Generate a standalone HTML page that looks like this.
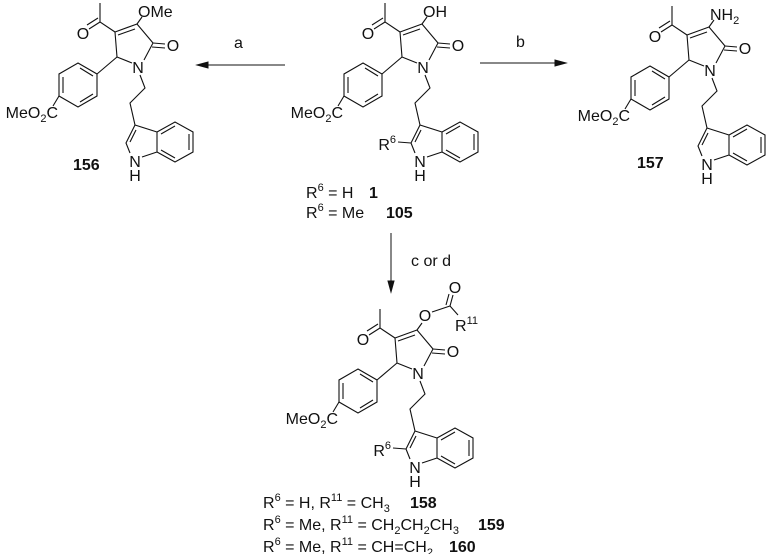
<!DOCTYPE html>
<html><head><meta charset="utf-8"><style>
html,body{margin:0;padding:0;background:#fff;}
svg{display:block;}
text{font-family:"Liberation Sans",sans-serif;font-size:16px;fill:#111;}
.b{font-weight:bold;}
.s{font-size:11px;}
</style></head><body>
<svg width="769" height="554" viewBox="0 0 769 554" xmlns="http://www.w3.org/2000/svg">
<defs>
<g id="core" stroke="#111" stroke-width="1.1" fill="none">
<path d="M385,3 L385,22 L400,32"/>
<path d="M385,22 L374,29 M383,18 L372,25"/>
<path d="M400,32 L422,24 L438,43 L429,60 M417,63 L402,57 L400,32"/>
<path d="M403,35 L420,29"/>
<path d="M438,43 L450,44 M437,47 L450,48"/>
<path d="M402,57 L382,74"/>
<path d="M363,63 L382,74 L382,96 L363,107 L344,96 L344,74 Z"/>
<path d="M365,68 L378,76 M378,94 L365,102 M348,93 L348,77"/>
<path d="M344,96 L338,106"/>
<path d="M425,75 L430,88 L415,103 L420,125"/>
<path d="M420,125 L411,143 L415,153 M427,157 L442,152 L442,132 L420,125"/>
<path d="M421,130 L415,142"/>
<path d="M442,132 L460,122 L478,132 L478,152 L460,162 L442,152"/>
<path d="M446,134 L460,126 M474,134 L474,150 M446,150 L460,158"/>
</g>
</defs>

<use href="#core"/>
<path d="M422,24 L427,17 M398,142 L411,143" stroke="#111" stroke-width="1.1" fill="none"/>
<text x="368" y="39" text-anchor="middle">O</text>
<text x="458" y="51" text-anchor="middle">O</text>
<text x="423" y="73" text-anchor="middle">N</text>
<text x="423" y="17">OH</text>
<text x="343" y="118" text-anchor="end">MeO<tspan class="s" dy="4">2</tspan><tspan dy="-4">C</tspan></text>
<text x="420" y="167" text-anchor="middle">N</text>
<text x="420" y="181" text-anchor="middle">H</text>
<text x="396" y="150" text-anchor="end">R<tspan class="s" dy="-7">6</tspan></text>

<g transform="translate(-285,0)">
<use href="#core"/>
<path d="M422,24 L427,17" stroke="#111" stroke-width="1.1" fill="none"/>
<text x="368" y="39" text-anchor="middle">O</text>
<text x="458" y="51" text-anchor="middle">O</text>
<text x="423" y="73" text-anchor="middle">N</text>
<text x="423" y="17">OMe</text>
<text x="343" y="118" text-anchor="end">MeO<tspan class="s" dy="4">2</tspan><tspan dy="-4">C</tspan></text>
<text x="420" y="167" text-anchor="middle">N</text>
<text x="420" y="181" text-anchor="middle">H</text>
</g>
<text x="73" y="170" class="b">156</text>

<g transform="translate(287,3)">
<use href="#core"/>
<path d="M422,24 L427,17" stroke="#111" stroke-width="1.1" fill="none"/>
<text x="368" y="39" text-anchor="middle">O</text>
<text x="458" y="51" text-anchor="middle">O</text>
<text x="423" y="73" text-anchor="middle">N</text>
<text x="423" y="17">NH<tspan class="s" dy="4">2</tspan></text>
<text x="343" y="118" text-anchor="end">MeO<tspan class="s" dy="4">2</tspan><tspan dy="-4">C</tspan></text>
<text x="420" y="167" text-anchor="middle">N</text>
<text x="420" y="181" text-anchor="middle">H</text>
</g>
<text x="637" y="168" class="b">157</text>

<text x="306" y="198">R<tspan class="s" dy="-7">6</tspan><tspan dy="7"> = H</tspan></text>
<text x="369" y="198" class="b">1</text>
<text x="306" y="218">R<tspan class="s" dy="-7">6</tspan><tspan dy="7"> = Me</tspan></text>
<text x="386" y="218" class="b">105</text>

<g stroke="#111" stroke-width="1" fill="#111">
<line x1="285" y1="65" x2="205" y2="65"/>
<polygon points="197,65 208,62 208,68"/>
<line x1="480" y1="63" x2="558" y2="63"/>
<polygon points="566,63 555,60 555,66"/>
<line x1="391" y1="233" x2="391" y2="284"/>
<polygon points="391,292 388,281 394,281"/>
</g>
<text x="234" y="48">a</text>
<text x="516" y="47">b</text>
<text x="411" y="266">c or d</text>

<g transform="translate(-5,306)">
<use href="#core"/>
<path d="M422,24 L427,17 M398,142 L411,143" stroke="#111" stroke-width="1.1" fill="none"/>
<text x="368" y="39" text-anchor="middle">O</text>
<text x="458" y="51" text-anchor="middle">O</text>
<text x="423" y="73" text-anchor="middle">N</text>
<text x="430" y="15" text-anchor="middle">O</text>
<text x="343" y="118" text-anchor="end">MeO<tspan class="s" dy="4">2</tspan><tspan dy="-4">C</tspan></text>
<text x="420" y="167" text-anchor="middle">N</text>
<text x="420" y="181" text-anchor="middle">H</text>
<text x="396" y="150" text-anchor="end">R<tspan class="s" dy="-7">6</tspan></text>
</g>
<g stroke="#111" stroke-width="1.1" fill="none">
<path d="M432,312 L450,306 L458,315"/>
<path d="M450,306 L453,295 M446,305 L449,294"/>
</g>
<text x="455" y="293" text-anchor="middle">O</text>
<text x="455" y="331">R<tspan class="s" dy="-7">11</tspan></text>

<text x="263" y="508">R<tspan class="s" dy="-7">6</tspan><tspan dy="7"> = H, R</tspan><tspan class="s" dy="-7">11</tspan><tspan dy="7"> = CH</tspan><tspan class="s" dy="4">3</tspan></text>
<text x="410" y="508" class="b">158</text>
<text x="263" y="530">R<tspan class="s" dy="-7">6</tspan><tspan dy="7"> = Me, R</tspan><tspan class="s" dy="-7">11</tspan><tspan dy="7"> = CH</tspan><tspan class="s" dy="4">2</tspan><tspan dy="-4">CH</tspan><tspan class="s" dy="4">2</tspan><tspan dy="-4">CH</tspan><tspan class="s" dy="4">3</tspan></text>
<text x="478" y="530" class="b">159</text>
<text x="263" y="552">R<tspan class="s" dy="-7">6</tspan><tspan dy="7"> = Me, R</tspan><tspan class="s" dy="-7">11</tspan><tspan dy="7"> = CH=CH</tspan><tspan class="s" dy="4">2</tspan></text>
<text x="449" y="552" class="b">160</text>
</svg>
</body></html>
